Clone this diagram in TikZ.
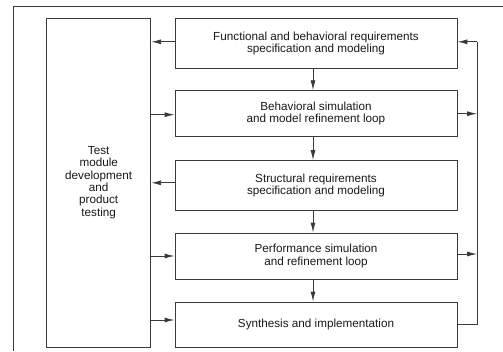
\documentclass[tikz,border=0pt]{standalone}
\usepackage{fontspec}
\setmainfont{Liberation Sans}
\usetikzlibrary{arrows.meta}
\definecolor{ln}{HTML}{3a3a3a}
\begin{document}
\begin{tikzpicture}[x=1pt,y=-1pt,
  box/.style={draw=ln,line width=0.9pt,fill=white,align=center,inner sep=0pt,
    font=\fontsize{11.7}{12.3}\selectfont,text=black!90},
  rbox/.style={box,minimum width=282pt},
  arr/.style={draw=ln,line width=0.9pt,-{Latex[length=10pt,width=5pt]}},
  ln/.style={draw=ln,line width=0.9pt}]
\useasboundingbox (0,0) rectangle (503,351);
\fill[white] (0,0) rectangle (503,351);
\draw[ln] (503,6) -- (13,6) -- (13,351);
\node[box,minimum width=104pt,minimum height=329pt] (L) at (98.7,182.5) {Test\\module\\development\\and\\product\\testing};
\node[rbox,minimum height=50.5pt] (b1) at (316,43.3) {Functional and behavioral requirements\\specification and modeling};
\node[rbox,minimum height=46pt] (b2) at (316,113.7) {Behavioral simulation\\and model refinement loop};
\node[rbox,minimum height=49.3pt] (b3) at (316,185.3) {Structural requirements\\specification and modeling};
\node[rbox,minimum height=46pt] (b4) at (316,256) {Performance simulation\\and refinement loop};
\node[rbox,minimum height=45pt] (b5) at (316,324.5) {Synthesis and implementation};
\coordinate (R) at (477,0);
% down arrows
\draw[arr] ([xshift=-3pt]b1.south) -- ([xshift=-3pt]b2.north);
\draw[arr] ([xshift=-3pt]b2.south) -- ([xshift=-3pt]b3.north);
\draw[arr] ([xshift=-3pt]b3.south) -- ([xshift=-3pt]b4.north);
\draw[arr] ([xshift=-3pt]b4.south) -- ([xshift=-3pt]b5.north);
% left side
\draw[arr] ([yshift=1.5pt]b1.west) -- ([yshift=1.5pt]b1.west -| L.east);
\draw[arr] ([yshift=-1pt]b2.west -| L.east) -- ([yshift=-1pt]b2.west);
\draw[arr] ([yshift=2.5pt]b3.west) -- ([yshift=2.5pt]b3.west -| L.east);
\draw[arr] (b4.west -| L.east) -- (b4.west);
\draw[arr] ([yshift=4.5pt]b5.west -| L.east) -- ([yshift=4.5pt]b5.west);
% right side
\draw[ln] (b5.east) -- (b5.east -| R) -- ([yshift=1.5pt]b1.east -| R);
\draw[arr] ([yshift=1.5pt]b1.east -| R) -- ([yshift=1.5pt]b1.east);
\draw[arr] (b2.east) -- (b2.east -| R);
\draw[arr] ([yshift=2pt]b4.east) -- ([yshift=2pt]b4.east -| R);
\end{tikzpicture}
\end{document}
